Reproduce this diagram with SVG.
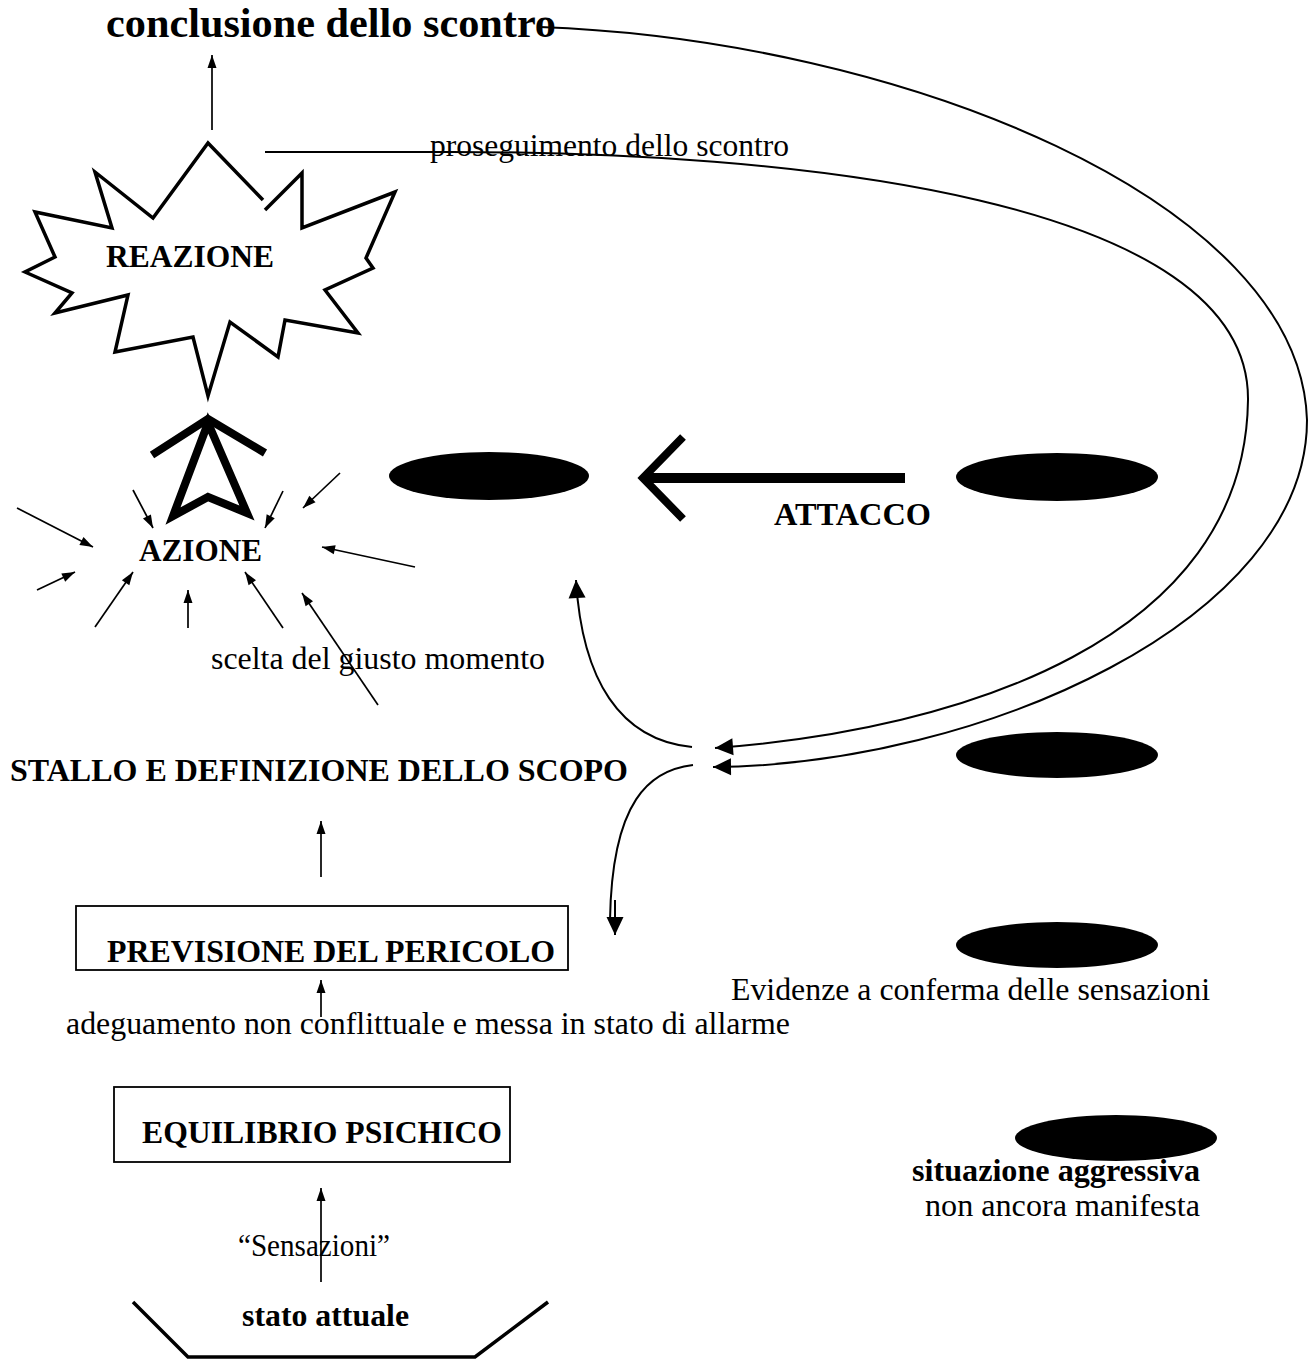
<svg xmlns="http://www.w3.org/2000/svg" width="1311" height="1360" viewBox="0 0 1311 1360">
  <style>
    .t { font-family: "Liberation Serif", "Times New Roman", serif; fill: #000; }
    .b { font-weight: bold; }
    .thin { fill: none; stroke: #000; stroke-width: 1.7; }
    .curve { fill: none; stroke: #000; stroke-width: 2; }
    .heavy { fill: none; stroke: #000; stroke-width: 8; stroke-linejoin: miter; stroke-linecap: butt; }
    .box { fill: #fff; stroke: #000; stroke-width: 1.8; }
    .blob { fill: #000; }
  </style>
  <defs>
    <marker id="tip" markerUnits="userSpaceOnUse" markerWidth="16" markerHeight="12" viewBox="-14 -6 16 12" refX="0" refY="0" orient="auto">
      <path d="M0,0 L-13,-4.5 L-13,4.5 z" fill="#000"/>
    </marker>
    <marker id="tipL" markerUnits="userSpaceOnUse" markerWidth="22" markerHeight="20" viewBox="-20 -10 22 20" refX="0" refY="0" orient="auto">
      <path d="M0,0 L-18,-8.5 L-18,8.5 z" fill="#000"/>
    </marker>
  </defs>

  <rect width="1311" height="1360" fill="#fff"/>

  <!-- connectors -->
  <g id="connectors">
    <!-- outcome loops back to the decision point -->
    <path class="curve" d="M540,27 C900,40 1300,200 1307,420 C1307,620 980,765 713,767" marker-end="url(#tipL)"/>
    <path class="curve" d="M265,152 L430,152 C800,150 1250,200 1248,400 C1245,640 960,730 715,748" marker-end="url(#tipL)"/>
    <!-- split from the decision point -->
    <path class="curve" d="M692,747 C620,740 582,680 576,580" marker-end="url(#tipL)"/>
    <path class="curve" d="M693,765 C650,770 612,800 610,920"/>
    <line class="curve" x1="615" y1="900" x2="615" y2="935" marker-end="url(#tipL)"/>
    <!-- vertical flow -->
    <line class="thin" x1="212" y1="130" x2="212" y2="55" marker-end="url(#tip)"/>
    <line class="thin" x1="321" y1="877" x2="321" y2="821" marker-end="url(#tip)"/>
    <line class="thin" x1="321" y1="1017" x2="321" y2="980" marker-end="url(#tip)"/>
    <line class="thin" x1="321" y1="1282" x2="321" y2="1188" marker-end="url(#tip)"/>
    <!-- converging influences on AZIONE -->
    <line class="thin" x1="17" y1="508" x2="93" y2="547" marker-end="url(#tip)"/>
    <line class="thin" x1="37" y1="590" x2="75" y2="572" marker-end="url(#tip)"/>
    <line class="thin" x1="95" y1="627" x2="133" y2="572" marker-end="url(#tip)"/>
    <line class="thin" x1="188" y1="628" x2="188" y2="590" marker-end="url(#tip)"/>
    <line class="thin" x1="283" y1="628" x2="245" y2="572" marker-end="url(#tip)"/>
    <line class="thin" x1="378" y1="705" x2="302" y2="593" marker-end="url(#tip)"/>
    <line class="thin" x1="415" y1="567" x2="322" y2="547" marker-end="url(#tip)"/>
    <line class="thin" x1="340" y1="473" x2="303" y2="508" marker-end="url(#tip)"/>
    <line class="thin" x1="283" y1="491" x2="265" y2="528" marker-end="url(#tip)"/>
    <line class="thin" x1="133" y1="490" x2="153" y2="528" marker-end="url(#tip)"/>
    <!-- ATTACCO -->
    <line x1="645" y1="478" x2="905" y2="478" stroke="#000" stroke-width="10"/>
    <polyline class="heavy" stroke-width="9" points="683,437 643,478 683,519"/>
    <!-- AZIONE -> REAZIONE -->
    <polyline class="heavy" points="152,455 208,419 265,453"/>
    <polygon class="heavy" points="208,423 173,516 208,497 247,513"/>
  </g>

  <g id="title">
    <text class="t b" x="106" y="37" font-size="42" textLength="450" lengthAdjust="spacingAndGlyphs">conclusione dello scontro</text>
  </g>

  <g id="proseguimento">
    <text class="t" x="430" y="156" font-size="32" textLength="359" lengthAdjust="spacingAndGlyphs">proseguimento dello scontro</text>
  </g>

  <g id="reazione">
    <polyline fill="none" stroke="#000" stroke-width="3.5" stroke-linejoin="miter"
      points="265,210 302,173 302,228 395,192 366,258 373,268 325,290 358,333 285,320 278,357 230,322 208,396 193,337 115,352 128,295 55,313 72,293 25,272 55,257 35,212 112,228 95,172 153,218 208,143 263,200"/>
    <text class="t b" x="106" y="267" font-size="32" textLength="168" lengthAdjust="spacingAndGlyphs">REAZIONE</text>
  </g>

  <g id="azione">
    <text class="t b" x="139" y="561" font-size="32" textLength="123" lengthAdjust="spacingAndGlyphs">AZIONE</text>
  </g>

  <g id="attacco">
    <text class="t b" x="774" y="525" font-size="32" textLength="157" lengthAdjust="spacingAndGlyphs">ATTACCO</text>
  </g>

  <g id="scelta">
    <text class="t" x="211" y="669" font-size="32" textLength="334" lengthAdjust="spacingAndGlyphs">scelta del giusto momento</text>
  </g>

  <g id="stallo">
    <text class="t b" x="10" y="781" font-size="32" textLength="618" lengthAdjust="spacingAndGlyphs">STALLO E DEFINIZIONE DELLO SCOPO</text>
  </g>

  <g id="previsione">
    <rect class="box" x="76" y="906" width="492" height="64"/>
    <text class="t b" x="107" y="962" font-size="32" textLength="448" lengthAdjust="spacingAndGlyphs">PREVISIONE DEL PERICOLO</text>
  </g>

  <g id="adeguamento">
    <text class="t" x="66" y="1034" font-size="32" textLength="724" lengthAdjust="spacingAndGlyphs">adeguamento non conflittuale e messa in stato di allarme</text>
  </g>

  <g id="equilibrio">
    <rect class="box" x="114" y="1087" width="396" height="75"/>
    <text class="t b" x="142" y="1143" font-size="32" textLength="360" lengthAdjust="spacingAndGlyphs">EQUILIBRIO PSICHICO</text>
  </g>

  <g id="sensazioni">
    <text class="t" x="238" y="1256" font-size="32" textLength="152" lengthAdjust="spacingAndGlyphs">“Sensazioni”</text>
  </g>

  <g id="stato-attuale">
    <polyline fill="none" stroke="#000" stroke-width="3.5" points="133,1302 188,1357 475,1357 548,1302"/>
    <text class="t b" x="242" y="1326" font-size="32" textLength="167" lengthAdjust="spacingAndGlyphs">stato attuale</text>
  </g>

  <!-- actors -->
  <g id="actors">
    <ellipse class="blob" cx="489" cy="476" rx="100" ry="24"/>
    <ellipse class="blob" cx="1057" cy="477" rx="101" ry="24"/>
    <ellipse class="blob" cx="1057" cy="755" rx="101" ry="23"/>
    <ellipse class="blob" cx="1057" cy="945" rx="101" ry="23"/>
    <ellipse class="blob" cx="1116" cy="1138" rx="101" ry="23"/>
  </g>

  <g id="evidenze">
    <text class="t" x="731" y="1000" font-size="32" textLength="479" lengthAdjust="spacingAndGlyphs">Evidenze a conferma delle sensazioni</text>
  </g>

  <g id="situazione">
    <text class="t b" x="912" y="1181" font-size="31" textLength="288" lengthAdjust="spacingAndGlyphs">situazione aggressiva</text>
    <text class="t" x="925" y="1216" font-size="31" textLength="275" lengthAdjust="spacingAndGlyphs">non ancora manifesta</text>
  </g>
</svg>
